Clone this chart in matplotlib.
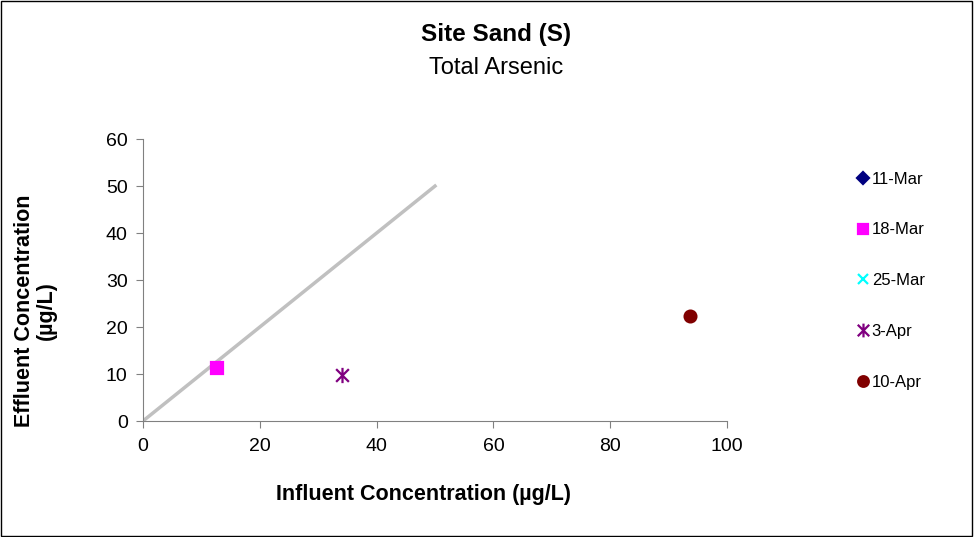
import numpy as np
import matplotlib
matplotlib.use('Agg')
import matplotlib.pyplot as plt
from matplotlib.path import Path

plt.rcParams['font.family'] = ['Liberation Sans', 'DejaVu Sans']

# data
dates = ['11-Mar', '18-Mar', '25-Mar', '3-Apr', '10-Apr']
influent = [[], [12.7], [], [34.1], [93.7]]
effluent = [[], [11.3], [], [9.8], [22.3]]
line_x = [0, 50]
line_y = [0, 50]

# excel-like star: an X with a vertical bar
star = Path([(-1, -1), (1, 1), (-1, 1), (1, -1), (0, -1.2), (0, 1.2)],
            [Path.MOVETO, Path.LINETO, Path.MOVETO, Path.LINETO, Path.MOVETO, Path.LINETO])
markers = ['D', 's', 'x', star, 'o']
colors = ['#000080', '#FF00FF', '#00FFFF', '#800080', '#800000']
sizes = [7, 8, 8, 11, 8.5]

fig = plt.figure(figsize=(9.74, 5.37), dpi=100)
ax = fig.add_axes([0.1468, 0.216, 0.5996, 0.525])

ax.plot(line_x, line_y, color='#C0C0C0', lw=2.5)
for d, xs, ys, m, c, s in zip(dates, influent, effluent, markers, colors, sizes):
    ax.plot(xs, ys, linestyle='none', marker=m, color=c, markersize=s,
            markeredgewidth=1.6, label=d)

ax.set_xlim(0, 100)
ax.set_ylim(0, 60)
ax.set_xticks(range(0, 101, 20))
ax.set_yticks(range(0, 61, 10))
ax.tick_params(labelsize=14, direction='out', length=5, color='#808080')
ax.tick_params(axis='x', pad=7)
ax.tick_params(axis='y', pad=6)
for sp in ['top', 'right']:
    ax.spines[sp].set_visible(False)
for sp in ['left', 'bottom']:
    ax.spines[sp].set_color('#808080')

fig.text(0.4353, 0.080, 'Influent Concentration (µg/L)', ha='center', va='center',
         fontsize=15.5, fontweight='bold')
fig.text(0.0365, 0.421, 'Effluent Concentration\n(µg/L)', ha='center', va='center',
         rotation=90, fontsize=15.5, fontweight='bold', linespacing=1.1)

fig.text(0.509, 0.935, 'Site Sand (S)', ha='center', va='center', fontsize=17.5, fontweight='bold')
fig.text(0.509, 0.873, 'Total Arsenic', ha='center', va='center', fontsize=17)

fig.legend(loc='upper left', bbox_to_anchor=(0.871, 0.693), frameon=False,
           fontsize=12, labelspacing=2.15, handletextpad=0.0, handlelength=1.0,
           borderaxespad=0, markerscale=0.9)

fig.patches.append(plt.Rectangle((0.001, 0.002), 0.997, 0.996, transform=fig.transFigure,
                                 fill=False, edgecolor='black', lw=1))

fig.savefig('out.png', dpi=100)
